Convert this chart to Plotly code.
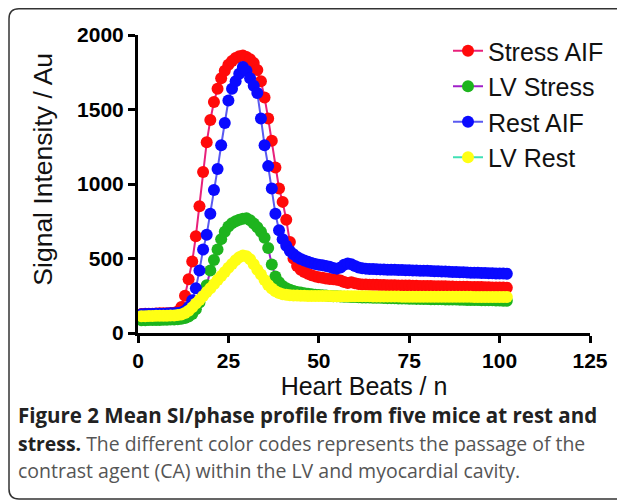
import plotly.graph_objects as go

heart_beats = list(range(1, 103))

stress_aif = [
    128, 129, 130, 130, 131, 132, 132, 133, 134, 136,
    145, 175, 250, 360, 480, 650, 850, 1080, 1280, 1430,
    1550, 1640, 1710, 1760, 1800, 1825, 1845, 1858, 1862, 1852,
    1838, 1812, 1765, 1690, 1580, 1440, 1290, 1110, 970, 880,
    760, 610, 500, 450, 425, 410, 398, 388, 380, 374,
    370, 366, 363, 360, 357, 352, 342, 336, 340, 334,
    329, 326, 325, 324, 324, 323, 322, 322, 321, 321,
    320, 319, 319, 318, 318, 317, 317, 316, 316, 315,
    315, 314, 314, 313, 313, 312, 312, 311, 311, 310,
    310, 309, 309, 308, 308, 307, 307, 306, 306, 305,
    305, 304,
]

lv_stress = [
    86, 86, 87, 87, 88, 88, 89, 89, 90, 91,
    93, 96, 100, 110, 128, 160, 205, 260, 320, 420,
    490, 560, 630, 680, 715, 737, 750, 760, 767, 770,
    757, 735, 710, 680, 640, 570, 460, 380, 340, 315,
    300, 290, 282, 276, 271, 267, 263, 260, 257, 255,
    253, 251, 249, 247, 246, 245, 244, 243, 242, 241,
    240, 239, 238, 238, 237, 236, 236, 235, 234, 234,
    233, 232, 232, 231, 230, 230, 229, 229, 228, 228,
    227, 227, 226, 226, 225, 225, 224, 224, 223, 223,
    222, 222, 221, 221, 220, 220, 219, 219, 218, 218,
    217, 217,
]

rest_aif = [
    126, 127, 128, 128, 129, 130, 130, 131, 132, 133,
    134, 138, 150, 175, 220, 300, 420, 560, 660, 800,
    960, 1100, 1260, 1410, 1560, 1640, 1690, 1740, 1785, 1760,
    1710, 1660, 1610, 1440, 1260, 1120, 970, 800, 690, 630,
    585, 550, 528, 510, 497, 487, 478, 470, 463, 458,
    454, 450, 444, 436, 432, 440, 458, 466, 462, 450,
    440, 435, 432, 430, 429, 428, 427, 426, 425, 424,
    424, 423, 422, 421, 421, 420, 419, 418, 418, 417,
    416, 415, 414, 413, 412, 411, 410, 409, 408, 407,
    406, 405, 404, 404, 403, 402, 401, 401, 400, 400,
    399, 398,
]

lv_rest = [
    113, 113, 114, 114, 115, 115, 116, 116, 117, 118,
    120, 124, 135, 150, 172, 198, 222, 248, 275, 300,
    328, 355, 383, 410, 438, 463, 488, 508, 520, 515,
    495, 462, 425, 392, 355, 322, 298, 280, 268, 260,
    256, 254, 252, 251, 250, 250, 249, 249, 249, 248,
    248, 248, 248, 247, 247, 247, 247, 247, 246, 246,
    246, 246, 246, 246, 245, 245, 245, 245, 245, 245,
    245, 245, 244, 244, 244, 244, 244, 244, 244, 244,
    244, 243, 243, 243, 243, 243, 243, 243, 243, 243,
    243, 243, 242, 242, 242, 242, 242, 242, 242, 242,
    242, 242,
]

series_names = ["Stress AIF", "LV Stress", "Rest AIF", "LV Rest"]
series_values = [stress_aif, lv_stress, rest_aif, lv_rest]
marker_colors = ["#ff0a0a", "#1eb41e", "#0a0aff", "#ffff14"]
line_colors = ["#e8207a", "#a020c8", "#5a5af0", "#40e0b4"]

x_ticks = [0, 25, 50, 75, 100, 125]
y_ticks = [0, 500, 1000, 1500, 2000]

# page has an 8px body margin, so the figure is drawn 8px right / down
OFF = 8
W, H = 625 - OFF, 501 - OFF
L, T = 138 - OFF, 35 - OFF
R = W - (590 - OFF)
B = H - (333 - OFF)
PW, PH = W - L - R, H - T - B


def px(xp):
    return (xp - OFF - L) / PW


def py(yp):
    return (H - B - (yp - OFF)) / PH


fig = go.Figure()
for name, vals, mc, lc in zip(series_names, series_values, marker_colors, line_colors):
    fig.add_trace(go.Scatter(
        x=heart_beats, y=vals, name=name, mode="lines+markers",
        line=dict(color=lc, width=2),
        marker=dict(color=mc, size=12, line=dict(width=0)),
    ))

axis_font = dict(family="Liberation Sans, Arial, sans-serif", size=21, color="black", weight="bold")
title_font = dict(family="Liberation Sans, Arial, sans-serif", size=25, color="#111")

fig.update_xaxes(
    range=[0, 125], tickvals=x_ticks, ticktext=[str(v) for v in x_ticks],
    showgrid=False, zeroline=False, showline=True, linecolor="black", linewidth=3,
    ticks="outside", ticklen=7, tickwidth=3, tickcolor="black",
    tickfont=axis_font,
    title=dict(text="Heart Beats / n", font=title_font, standoff=6),
)
fig.update_yaxes(
    range=[0, 2000], tickvals=y_ticks, ticktext=[str(v) for v in y_ticks],
    showgrid=False, zeroline=False, showline=True, linecolor="black", linewidth=3,
    ticks="outside", ticklen=7, tickwidth=3, tickcolor="black",
    tickfont=axis_font,
    title=dict(text="&nbsp;&nbsp;&nbsp;&nbsp;Signal Intensity / Au",
               font=dict(title_font, size=26.5), standoff=17),
)

caption_lines = [
    "<b>Figure 2 Mean SI/phase profile from five mice at rest and</b>",
    "<b>stress.</b><span style='color:#555'> The different color codes represents the passage of the</span>",
    "<span style='color:#555'>contrast agent (CA) within the LV and myocardial cavity.</span>",
]
caption_sizes = [20.5, 19.4, 19.5]
caption_y = [415, 443, 471]
annotations = []
for txt, fs, yc in zip(caption_lines, caption_sizes, caption_y):
    annotations.append(dict(
        text=txt, xref="paper", yref="paper", x=px(16), y=py(yc),
        xanchor="left", yanchor="middle", showarrow=False,
        font=dict(family="Open Sans, sans-serif", size=fs, color="#222"),
    ))

r = 10
top, left, bottom = 8.8, 9, 499
frame = (f"M {px(660)} {py(top)} L {px(left + r)} {py(top)} Q {px(left)} {py(top)} {px(left)} {py(top + r)} "
         f"L {px(left)} {py(bottom - r)} Q {px(left)} {py(bottom)} {px(left + r)} {py(bottom)} L {px(660)} {py(bottom)}")

fig.update_layout(
    width=W, height=H,
    margin=dict(l=L, r=R, t=T, b=B, autoexpand=False),
    paper_bgcolor="white", plot_bgcolor="white",
    showlegend=True,
    legend=dict(
        x=px(448), y=py(28), xanchor="left", yanchor="top",
        font=dict(family="Liberation Sans, Arial, sans-serif", size=25, color="#111"),
        bgcolor="rgba(0,0,0,0)",
    ),
    annotations=annotations,
    shapes=[dict(type="path", path=frame, xref="paper", yref="paper",
                 line=dict(color="#333", width=1.5), layer="above")],
)

fig.write_html("out.html")
